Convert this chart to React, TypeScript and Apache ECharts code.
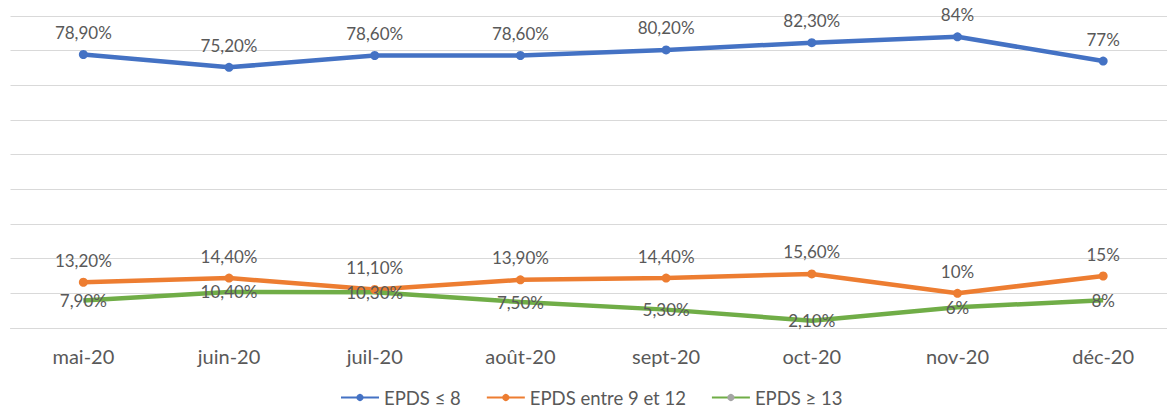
import React, { useEffect, useRef } from "react";
import * as echarts from "echarts";

const categories = ["mai-20", "juin-20", "juil-20", "août-20", "sept-20", "oct-20", "nov-20", "déc-20"];
const seriesNames = ["EPDS ≤ 8", "EPDS entre 9 et 12", "EPDS ≥ 13"];
const epdsLow = [78.9, 75.2, 78.6, 78.6, 80.2, 82.3, 84, 77];
const epdsMid = [13.2, 14.4, 11.1, 13.9, 14.4, 15.6, 10, 15];
const epdsHigh = [7.9, 10.4, 10.3, 7.5, 5.3, 2.1, 6, 8];

const FONT = "Lato, 'Noto Sans', sans-serif";
const TEXT = "#595959";

function fmt(p: any) {
  const v = p.value as number;
  if (Number.isInteger(v)) return v + "%";
  return v.toFixed(2).replace(".", ",") + "%";
}

export default function App() {
  const ref = useRef<HTMLDivElement>(null);
  useEffect(() => {
    const chart = echarts.init(ref.current!, null, { renderer: "svg" });
    const labelTop = {
      show: true,
      position: "top",
      distance: 9,
      formatter: fmt,
      color: TEXT,
      fontSize: 17,
      fontFamily: FONT,
    };
    chart.setOption({
      animation: false,
      textStyle: { fontFamily: FONT },
      grid: { left: 10.5, right: 0, top: 16, bottom: 84 },
      legend: {
        left: 335,
        bottom: 0,
        itemWidth: 38,
        itemHeight: 9,
        itemGap: 25,
        textStyle: { color: TEXT, fontSize: 18.5, fontFamily: FONT },
        data: seriesNames,
      },
      xAxis: {
        type: "category",
        data: categories,
        boundaryGap: true,
        axisLine: { show: true, lineStyle: { color: "#d9d9d9", width: 1 } },
        axisTick: { show: false },
        axisLabel: { color: TEXT, fontSize: 20, fontFamily: FONT, margin: 18 },
      },
      yAxis: {
        type: "value",
        min: 0,
        max: 90,
        interval: 10,
        axisLabel: { show: false },
        axisLine: { show: false },
        axisTick: { show: false },
        splitLine: { lineStyle: { color: "#d9d9d9", width: 1 } },
      },
      series: [
        {
          name: seriesNames[0],
          type: "line",
          data: epdsLow,
          symbol: "circle",
          symbolSize: 9,
          lineStyle: { color: "#4472C4", width: 4.5 },
          itemStyle: { color: "#4472C4" },
          label: labelTop,
        },
        {
          name: seriesNames[1],
          type: "line",
          data: epdsMid,
          symbol: "circle",
          symbolSize: 9,
          lineStyle: { color: "#ED7D31", width: 4.5 },
          itemStyle: { color: "#ED7D31" },
          label: labelTop,
        },
        {
          name: seriesNames[2],
          type: "line",
          data: epdsHigh,
          symbol: "circle",
          symbolSize: 0,
          lineStyle: { color: "#70AD47", width: 4.5 },
          itemStyle: { color: "#A5A5A5" },
          label: { ...labelTop, position: "inside" },
        },
      ],
    });
    return () => chart.dispose();
  }, []);
  return (
    <div
      ref={ref}
      style={{ position: "fixed", left: 0, top: 0, width: 1176, height: 412, background: "#fff" }}
    />
  );
}
